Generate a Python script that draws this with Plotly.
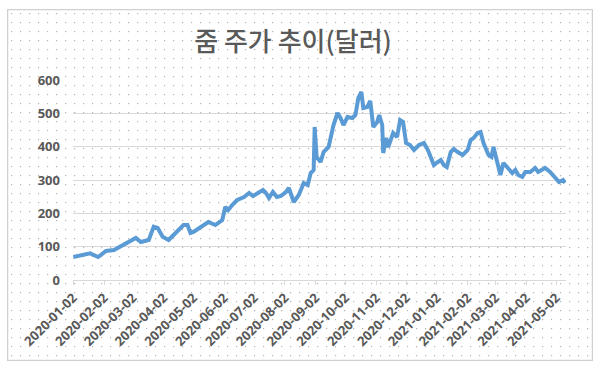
import base64
import plotly.graph_objects as go

dates = [
    "2020-01-02", "2020-01-19", "2020-01-27", "2020-02-04", "2020-02-12", "2020-02-26",
    "2020-03-05", "2020-03-10", "2020-03-18", "2020-03-23", "2020-03-27", "2020-04-01",
    "2020-04-07", "2020-04-12", "2020-04-17", "2020-04-22", "2020-04-26", "2020-04-29",
    "2020-05-02", "2020-05-09", "2020-05-17", "2020-05-24", "2020-05-31", "2020-06-03",
    "2020-06-06", "2020-06-10", "2020-06-15", "2020-06-22", "2020-06-27", "2020-07-01",
    "2020-07-06", "2020-07-11", "2020-07-14", "2020-07-17", "2020-07-21", "2020-07-25",
    "2020-07-29", "2020-08-03", "2020-08-06", "2020-08-11", "2020-08-16", "2020-08-21",
    "2020-08-25", "2020-08-28", "2020-08-31", "2020-09-01", "2020-09-03", "2020-09-07",
    "2020-09-10", "2020-09-15", "2020-09-20", "2020-09-24", "2020-09-27", "2020-09-30",
    "2020-10-04", "2020-10-09", "2020-10-12", "2020-10-15", "2020-10-18", "2020-10-20",
    "2020-10-24", "2020-10-27", "2020-10-30", "2020-11-03", "2020-11-05", "2020-11-08",
    "2020-11-09", "2020-11-12", "2020-11-14", "2020-11-19", "2020-11-23", "2020-11-26",
    "2020-11-29", "2020-12-02", "2020-12-06", "2020-12-10", "2020-12-15", "2020-12-20",
    "2020-12-24", "2020-12-27", "2020-12-30", "2021-01-03", "2021-01-06", "2021-01-09",
    "2021-01-12", "2021-01-16", "2021-01-19", "2021-01-23", "2021-01-28", "2021-02-02",
    "2021-02-05", "2021-02-08", "2021-02-12", "2021-02-15", "2021-02-18", "2021-02-23",
    "2021-02-26", "2021-02-28", "2021-03-04", "2021-03-07", "2021-03-10", "2021-03-15",
    "2021-03-19", "2021-03-22", "2021-03-25", "2021-03-29", "2021-04-01", "2021-04-06",
    "2021-04-11", "2021-04-14", "2021-04-21", "2021-04-26", "2021-05-02", "2021-05-05",
    "2021-05-09", "2021-05-11",
]
prices = [
    69, 80, 69, 87, 90, 111,
    126, 114, 120, 160, 156, 130,
    120, 135, 150, 165, 165, 141,
    144, 159, 174, 165, 180, 219,
    210, 225, 240, 249, 261, 252,
    261, 270, 261, 246, 264, 249,
    252, 264, 276, 234, 255, 291,
    285, 321, 330, 459, 369, 354,
    384, 399, 465, 501, 486, 465,
    489, 486, 495, 546, 564, 516,
    519, 537, 459, 474, 495, 465,
    381, 426, 399, 441, 429, 480,
    474, 411, 405, 390, 405, 411,
    390, 366, 345, 354, 360, 345,
    339, 384, 393, 384, 375, 390,
    420, 426, 441, 444, 411, 375,
    369, 399, 345, 315, 351, 336,
    321, 330, 315, 309, 324, 324,
    336, 324, 336, 324, 306, 294,
    300, 291,
]
tick_labels = [
    "2020-01-02", "2020-02-02", "2020-03-02", "2020-04-02", "2020-05-02", "2020-06-02",
    "2020-07-02", "2020-08-02", "2020-09-02", "2020-10-02", "2020-11-02", "2020-12-02",
    "2021-01-02", "2021-02-02", "2021-03-02", "2021-04-02", "2021-05-02",
]
y_ticks = [0, 100, 200, 300, 400, 500, 600]
title_text = "줌 주가 추이(달러)"

# dotted chart-area background with light border
BW, BH = 586, 352
svg = (
    f'<svg xmlns="http://www.w3.org/2000/svg" width="{BW}" height="{BH}" viewBox="0 0 {BW} {BH}">'
    '<defs><pattern id="p" width="9" height="9" patternUnits="userSpaceOnUse">'
    '<rect x="4" y="4" width="1.2" height="1.2" fill="#b4b4b4"/></pattern></defs>'
    f'<rect x="0" y="0" width="{BW}" height="{BH}" fill="white"/>'
    f'<rect x="0" y="0" width="{BW}" height="{BH}" fill="url(#p)"/>'
    f'<rect x="0.5" y="0.5" width="{BW-1}" height="{BH-1}" fill="none" stroke="#d0d0d0" stroke-width="1.5"/>'
    '</svg>'
)
src = "data:image/svg+xml;base64," + base64.b64encode(svg.encode()).decode()

L, R, T, B = 73, 34, 80, 87
W, H = 600 - L - R, 367 - T - B

fig = go.Figure()
fig.add_trace(go.Scatter(
    x=dates, y=prices, mode="lines",
    line=dict(color="#5b9bd5", width=4),
    hoverinfo="x+y", showlegend=False,
))

tick_font = dict(family="Open Sans, DejaVu Sans, sans-serif", size=13, color="#595959", weight="bold")

fig.update_layout(
    width=600, height=367,
    margin=dict(l=L, r=R, t=T, b=B, autoexpand=False),
    paper_bgcolor="white",
    plot_bgcolor="rgba(0,0,0,0)",
    title=dict(
        text=title_text, x=293 / 600, xref="container", xanchor="center",
        y=1 - 42 / 367, yref="container", yanchor="middle",
        font=dict(family="Noto Sans CJK KR, sans-serif", size=26, color="#595959", weight=500),
    ),
    images=[dict(
        source=src, xref="paper", yref="paper",
        x=(7 - L) / W, y=(T + H - 9) / H,
        sizex=BW / W, sizey=BH / H,
        xanchor="left", yanchor="top", sizing="stretch", layer="below",
    )],
    xaxis=dict(
        type="date",
        range=["2020-01-01 18:00", "2021-05-12"],
        tickmode="array", tickvals=tick_labels, ticktext=tick_labels,
        tickangle=-45, tickfont=tick_font,
        showgrid=False, zeroline=False,
        showline=True, linecolor="#d9d9d9", linewidth=1,
        ticks="outside", ticklen=4, tickcolor="#d9d9d9",
        automargin=False,
    ),
    yaxis=dict(
        range=[0, 600],
        tickmode="array", tickvals=y_ticks,
        tickfont=tick_font,
        showgrid=True, gridcolor="#d9d9d9", gridwidth=1,
        zeroline=False, showline=False, ticks="",
        ticklabelstandoff=12,
        automargin=False,
    ),
)

fig.write_html("out.html")
